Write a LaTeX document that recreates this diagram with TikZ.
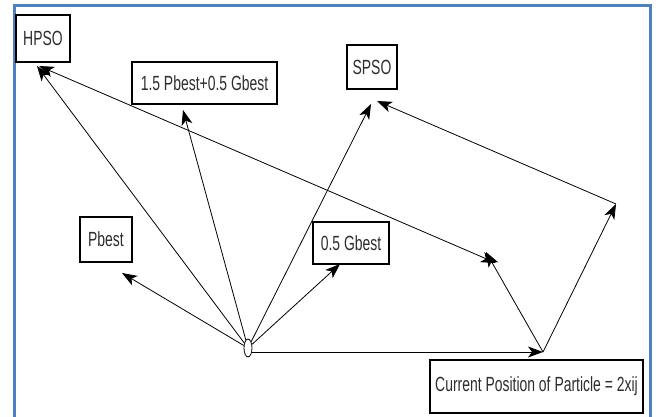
\documentclass[tikz,border=0pt]{standalone}
\usepackage{fontspec}
\setmainfont[FakeStretch=0.68]{Liberation Sans}
\usetikzlibrary{arrows.meta, shapes.geometric}
\definecolor{frameblue}{RGB}{79,129,189}
\definecolor{labelgray}{RGB}{45,45,45}

\begin{document}
\begin{tikzpicture}[x=1pt, y=-1pt,
    lbl/.style={draw, line width=1.2pt, inner sep=0pt, text=labelgray,
      font=\fontsize{20.5}{23}\selectfont},
    vec/.style={-{Stealth[length=15pt, width=11pt, inset=4pt]}, line width=0.8pt},
    dvec/.style={{Stealth[length=15pt, width=11pt, inset=4pt]}-{Stealth[length=15pt, width=11pt, inset=4pt]}, line width=0.8pt}]
        \useasboundingbox (0,0) rectangle (658,416);
        % frame
        \draw[frameblue, line width=3pt] (14.5,420) -- (14.5,5.5) -- (650,5.5) -- (650,420);

        % labels
        \node[lbl, minimum width=54pt, minimum height=47pt] (hpso) at (43,38.5) {HPSO};
        \node[lbl, minimum width=145pt, minimum height=42pt] (mix) at (204.5,83) {1.5 Pbest+0.5 Gbest};
        \node[lbl, minimum width=50pt, minimum height=44pt] (spso) at (372,67) {SPSO};
        \node[lbl, minimum width=52pt, minimum height=45pt] (pbest) at (106,239.5) {Pbest};
        \node[lbl, minimum width=76pt, minimum height=42pt] (gbest) at (351,243) {0.5 Gbest};
        \node[lbl, minimum width=213pt, minimum height=53pt] (cur) at (536.5,386.5) {Current Position of Particle = 2xij};

        % particle and vector ends
        \node[ellipse, draw, line width=0.8pt, minimum width=8pt, minimum height=18pt, inner sep=0pt] (o) at (248,348) {};
        \coordinate (tH) at (37,66);
        \coordinate (tH2) at (39,66);
        \coordinate (tMix) at (183,110);
        \coordinate (tS) at (371,104);
        \coordinate (tS2) at (377,101);
        \coordinate (tP) at (122,273);
        \coordinate (tG) at (340,264);
        \coordinate (cp) at (543,352);
        \coordinate (m) at (486,252);
        \coordinate (m2) at (496,263);
        \coordinate (r) at (616,204);

        % vectors from the particle
        \draw[vec] (o) -- (tH);
        \draw[vec] (o) -- (tMix);
        \draw[vec] (o) -- (tS);
        \draw[vec] (o) -- (tP);
        \draw[vec] (o) -- (tG);
        \draw[vec] (o.east |- cp) -- (cp);

        % from the current position
        \draw[vec] (cp) -- (m);
        \draw[vec] (cp) -- (r);
        \draw[vec] (r) -- (tS2);
        \draw[dvec] (tH2) -- (m2);
      \end{tikzpicture}
\end{document}
